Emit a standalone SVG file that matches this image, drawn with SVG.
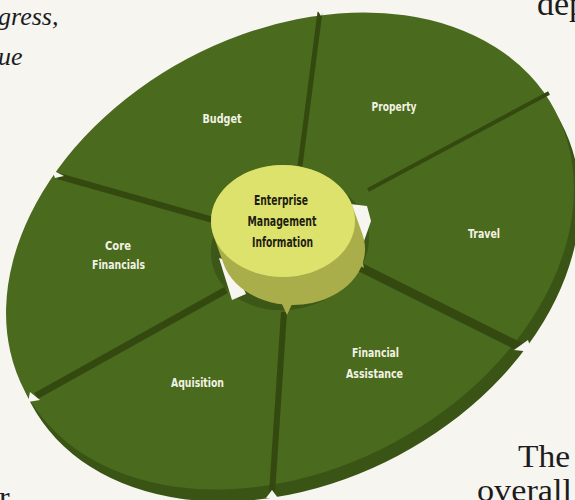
<svg xmlns="http://www.w3.org/2000/svg" width="575" height="500" viewBox="0 0 575 500">
<style>
.page{font-family:"Liberation Serif","DejaVu Serif",serif;fill:#1c1c1c}
.lbl{font-family:"DejaVu Sans Condensed","DejaVu Sans",sans-serif;font-weight:bold;font-size:13px;fill:#f2f2e4;text-anchor:middle}
.ctr{font-family:"DejaVu Sans Condensed","DejaVu Sans",sans-serif;font-weight:bold;font-size:13.5px;fill:#1d1d12;text-anchor:middle}
.div{stroke:#34490f;stroke-linecap:butt}
.notch{fill:#f6f5f0}
</style>
<rect width="575" height="500" fill="#f6f5f0"/>
<g id="page-text">
<text class="page" x="-2" y="25" font-size="26" font-style="italic">gress,</text>
<text class="page" x="-2" y="65" font-size="26" font-style="italic">ue</text>
<text class="page" x="537" y="15" font-size="34">dep</text>
<text class="page" x="518" y="467" font-size="32" textLength="52" lengthAdjust="spacingAndGlyphs">The</text>
<text class="page" x="477" y="501" font-size="32" textLength="95" lengthAdjust="spacingAndGlyphs">overall</text>
<text class="page" x="-1" y="508" font-size="32">r</text>
</g>
<g id="ring">
<ellipse cx="290" cy="251" rx="300" ry="218" transform="translate(6 12) rotate(-28 290 251)" fill="#3a5416"/>
<ellipse cx="290" cy="251" rx="300" ry="218" transform="rotate(-28 290 251)" fill="#4a6a1d"/>
<ellipse cx="290" cy="245" rx="80" ry="64" transform="rotate(-15 290 245)" fill="#3c5717"/>
<polygon points="219,258 232,300 246,294 232,262" fill="#f6f5f0"/>
<polygon points="350,204 367,206 371,221 363,244 355,236" fill="#f6f5f0"/>
</g>
<g id="dividers">
<line class="div" x1="300" y1="166" x2="320" y2="12" stroke-width="5"/>
<line class="div" x1="368" y1="190" x2="549" y2="93" stroke-width="4"/>
<line class="div" x1="358" y1="266" x2="520" y2="347" stroke-width="9"/>
<line class="div" x1="284" y1="312" x2="272" y2="494" stroke-width="6"/>
<line class="div" x1="226" y1="290" x2="36" y2="396" stroke-width="7"/>
<line class="div" x1="213" y1="220" x2="58" y2="176" stroke-width="6"/>
<polygon class="notch" points="316,8 326,8 321,16"/>
<polygon class="notch" points="52,170 64,176 55,178"/>
<polygon class="notch" points="514,350 528,340 532,352"/>
<polygon class="notch" points="266,498 278,498 272,490"/>
<polygon class="notch" points="30,392 40,400 28,402"/>
</g>
<g id="node-emi">
<path d="M352.4,206 L362.4,234 A72,56 0 0,1 223.6,264 L213.6,236 A72,56 0 0,1 352.4,206 Z" fill="#a9ad4a"/>
<polygon points="281,302 293,302 287,315" fill="#a9ad4a"/>
<polygon points="346,258 360,250 364,268" fill="#a9ad4a"/>
<ellipse cx="283" cy="221" rx="72" ry="56" fill="#dde26c"/>
<text class="ctr" x="281" y="205" textLength="54" lengthAdjust="spacingAndGlyphs">Enterprise</text>
<text class="ctr" x="282" y="226" textLength="69" lengthAdjust="spacingAndGlyphs">Management</text>
<text class="ctr" x="282.5" y="247" textLength="61" lengthAdjust="spacingAndGlyphs">Information</text>
</g>
<g id="node-budget"><text class="lbl" x="222" y="123" textLength="39" lengthAdjust="spacingAndGlyphs">Budget</text></g>
<g id="node-property"><text class="lbl" x="394" y="111" textLength="45" lengthAdjust="spacingAndGlyphs">Property</text></g>
<g id="node-travel"><text class="lbl" x="484" y="238" textLength="32" lengthAdjust="spacingAndGlyphs">Travel</text></g>
<g id="node-core"><text class="lbl" x="118" y="250" textLength="26" lengthAdjust="spacingAndGlyphs">Core</text><text class="lbl" x="118.5" y="269" textLength="53" lengthAdjust="spacingAndGlyphs">Financials</text></g>
<g id="node-assist"><text class="lbl" x="375.5" y="357" textLength="47" lengthAdjust="spacingAndGlyphs">Financial</text><text class="lbl" x="374.5" y="378" textLength="57" lengthAdjust="spacingAndGlyphs">Assistance</text></g>
<g id="node-aquisition"><text class="lbl" x="197.5" y="387" textLength="53" lengthAdjust="spacingAndGlyphs">Aquisition</text></g>
</svg>
